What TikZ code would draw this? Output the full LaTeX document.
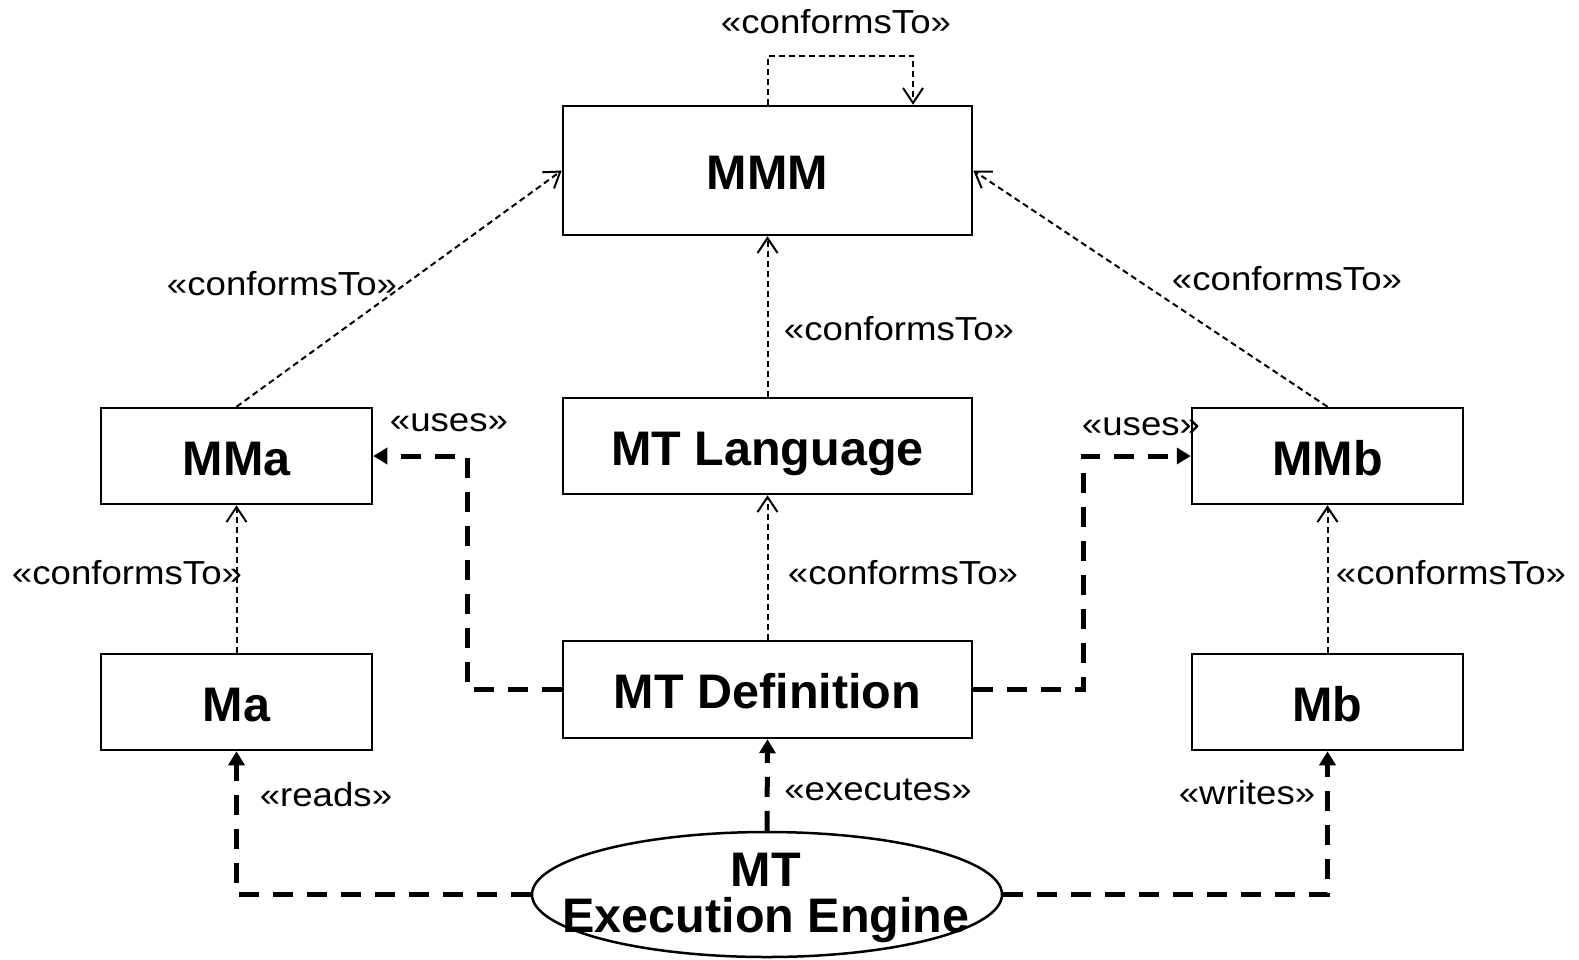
\documentclass[tikz,border=0pt]{standalone}
\usepackage{fontspec}
\setmainfont{Liberation Sans}
\newfontfamily\labfont{Liberation Sans}[FakeStretch=1.1]
\usetikzlibrary{arrows.meta,shapes.geometric}
\tikzset{
  box/.style={draw,line width=2.5pt,inner sep=0pt,text height=38pt,text depth=0pt,
    font=\bfseries\fontsize{48.5}{47}\selectfont},
  lab/.style={inner sep=0pt,font=\labfont\fontsize{33.3}{36}\selectfont},
  conf/.style={line width=2pt,dash pattern=on 6pt off 4pt,
    -{Straight Barb[length=15pt,width=20pt,line width=2pt]}},
  use/.style={line width=5pt,dash pattern=on 20pt off 14pt,
    -{Triangle[length=14pt,width=16pt]}}
}
\begin{document}
\begin{tikzpicture}[x=1pt,y=-1pt]
\useasboundingbox (0,0) rectangle (1579,959);
% boxes
\node[box,minimum width=409pt,minimum height=129pt] (MMM) at (767.5,170.5) {MMM};
\node[box,minimum width=271pt,minimum height=96pt] (MMa) at (236.5,456) {MMa};
\node[box,minimum width=409pt,minimum height=96pt] (MTL) at (767.5,446) {MT Language};
\node[box,minimum width=271pt,minimum height=96pt] (MMb) at (1327.5,456) {MMb};
\node[box,minimum width=271pt,minimum height=96pt] (Ma) at (236.5,702) {Ma};
\node[box,minimum width=409pt,minimum height=97pt] (MTD) at (767.5,689.5) {MT Definition};
\node[box,minimum width=271pt,minimum height=96pt] (Mb) at (1327.5,702) {Mb};
\node[draw,ellipse,line width=2.5pt,inner sep=0pt,minimum width=470pt,minimum height=125pt] (eng) at (767,894.5) {};
\node[font=\bfseries\fontsize{48.5}{46}\selectfont,align=center,inner sep=0pt] (engt) at (766,898) {MT\hspace{12pt}\\Execution Engine};
% conformsTo
\draw[conf] (MMM.north) -- ++(0,-49) -| ([xshift=145.5pt]MMM.north);
\draw[conf] (MMa.north) -- (MMM.west);
\draw[conf] (MTL.north) -- (MMM.south);
\draw[conf] (MMb.north) -- (MMM.east);
\draw[conf] (MTD.north) -- (MTL.south);
\draw[conf] (Ma.north) -- (MMa.south);
\draw[conf] (Mb.north) -- (MMb.south);
% uses, reads, writes, executes
\coordinate (uL) at (467,456);
\coordinate (uR) at (1083,456);
\draw[use] (MTD.west) -| (uL) -- (MMa.east);
\draw[use] (MTD.east) -| (uR) -- (MMb.west);
\draw[use] (eng.west) -| (Ma.south);
\draw[use] (eng.east) -| (Mb.south);
\draw[use] (eng.north) -- (MTD.south);
% labels
\node[lab] (l0) at (836,22) {«conformsTo»};
\node[lab] (l1) at (282,284) {«conformsTo»};
\node[lab] (l2) at (899,329) {«conformsTo»};
\node[lab] (l3) at (1287,279) {«conformsTo»};
\node[lab] (l4) at (903,573) {«conformsTo»};
\node[lab] (l5) at (127,573) {«conformsTo»};
\node[lab] (l6) at (1451,573) {«conformsTo»};
\node[lab] (l7) at (449,423) {«uses»};
\node[lab] (l8) at (1141,427) {«uses»};
\node[lab] (l9) at (326,795) {«reads»};
\node[lab] (l10) at (1247,793) {«writes»};
\node[lab] (l11) at (878,790) {«executes»};
\end{tikzpicture}
\end{document}
